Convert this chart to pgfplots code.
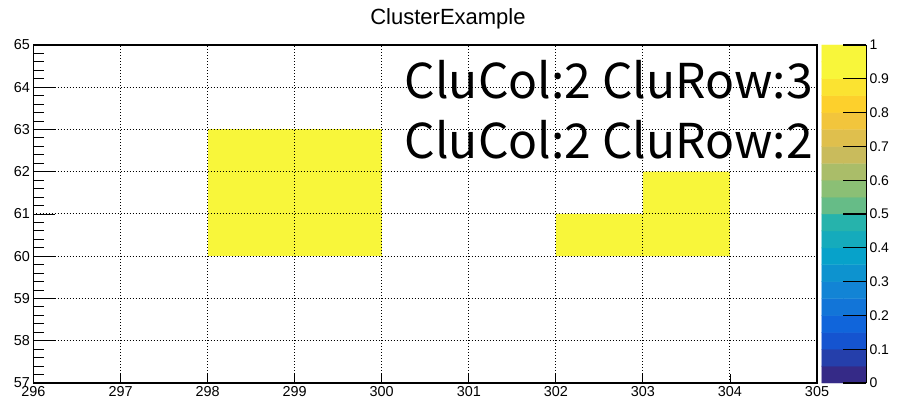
\documentclass[border=0pt]{standalone}
\usepackage{pgfplots}
\pgfplotsset{compat=1.18}
\usepackage{fontspec}
\setmainfont{Liberation Sans}
\newfontfamily\bigfont{Noto Sans CJK JP}
\definecolor{birdtop}{rgb}{0.973,0.965,0.227}
\pgfplotsset{/pgf/number format/assume math mode=true,
  colormap={bird}{rgb=(0.2082,0.1664,0.5293) rgb=(0.1455,0.2479,0.6721)
    rgb=(0.0827,0.3293,0.8148) rgb=(0.0641,0.3978,0.8605)
    rgb=(0.0721,0.4585,0.8479) rgb=(0.0722,0.5186,0.8336)
    rgb=(0.0492,0.5766,0.8137) rgb=(0.0261,0.6346,0.7939)
    rgb=(0.0810,0.6698,0.7366) rgb=(0.1471,0.7018,0.6739)
    rgb=(0.2539,0.7244,0.6054) rgb=(0.4013,0.7376,0.5311)
    rgb=(0.5453,0.7483,0.4601) rgb=(0.6668,0.7414,0.4111)
    rgb=(0.7883,0.7345,0.3621) rgb=(0.8745,0.7497,0.3015)
    rgb=(0.9490,0.7722,0.2371) rgb=(0.9926,0.8173,0.1742)
    rgb=(0.9845,0.8900,0.1941) rgb=(0.973,0.965,0.227)
    rgb=(0.973,0.965,0.227)}}
\pgfplotstableread{
x y c
0.25 0.025 0.025
0.75 0.025 0.025
0.25 0.075 0.075
0.75 0.075 0.075
0.25 0.125 0.125
0.75 0.125 0.125
0.25 0.175 0.175
0.75 0.175 0.175
0.25 0.225 0.225
0.75 0.225 0.225
0.25 0.275 0.275
0.75 0.275 0.275
0.25 0.325 0.325
0.75 0.325 0.325
0.25 0.375 0.375
0.75 0.375 0.375
0.25 0.425 0.425
0.75 0.425 0.425
0.25 0.475 0.475
0.75 0.475 0.475
0.25 0.525 0.525
0.75 0.525 0.525
0.25 0.575 0.575
0.75 0.575 0.575
0.25 0.625 0.625
0.75 0.625 0.625
0.25 0.675 0.675
0.75 0.675 0.675
0.25 0.725 0.725
0.75 0.725 0.725
0.25 0.775 0.775
0.75 0.775 0.775
0.25 0.825 0.825
0.75 0.825 0.825
0.25 0.875 0.875
0.75 0.875 0.875
0.25 0.925 0.925
0.75 0.925 0.925
0.25 0.975 0.975
0.75 0.975 0.975
}\cbtable
\begin{document}
\begin{tikzpicture}
\begin{axis}[
  name=main,
  scale only axis, width=783.5pt, height=338pt,
  xmin=296, xmax=305, ymin=57, ymax=65,
  xtick={296,297,...,305}, ytick={57,58,...,65},
  minor y tick num=4,
  tick pos=left,
  tick align=inside,
  major tick length=22pt, minor tick length=11pt,
  xtick style={/pgfplots/major tick length=9pt},
  tick style={black, line width=0.9pt},
  grid=major,
  grid style={black, line width=1pt, dash pattern=on 1pt off 2pt},
  axis on top,
  axis line style={black, line width=1.4pt},
  ticklabel style={font=\fontsize{14.4}{16}\selectfont},
  title={ClusterExample},
  title style={font=\fontsize{22}{24}\selectfont, at={(0.529,1)}, anchor=south, yshift=6pt},
]
\addplot[draw=none, fill=birdtop] coordinates {(298,60) (300,60) (300,63) (298,63)} -- cycle;
\addplot[draw=none, fill=birdtop] coordinates {(302,60) (304,60) (304,62) (303,62) (303,61) (302,61)} -- cycle;
\node[anchor=east, inner sep=0pt, font=\bigfont\fontsize{48}{50}\selectfont] at (axis cs:304.955,64.17) {CluCol:2 CluRow:3};
\node[anchor=east, inner sep=0pt, font=\bigfont\fontsize{48}{50}\selectfont] at (axis cs:304.955,62.75) {CluCol:2 CluRow:2};
\end{axis}
\begin{axis}[
  name=cb,
  at={(main.north east)}, anchor=north west, xshift=4.5pt,
  scale only axis, width=44.5pt, height=338pt,
  xmin=0, xmax=1, ymin=0, ymax=1,
  xtick=\empty,
  ytick={0,0.1,0.2,0.3,0.4,0.5,0.6,0.7,0.8,0.9,1},
  yticklabels={0,0.1,0.2,0.3,0.4,0.5,0.6,0.7,0.8,0.9,1},
  ytick pos=right, yticklabel pos=right,
  tick align=inside,
  major tick length=23pt,
  ytick style={black, line width=1.2pt},
  axis on top,
  axis line style={draw=none},
  yticklabel style={font=\fontsize{14}{16}\selectfont},
  colormap access=piecewise constant,
  point meta min=0, point meta max=1,
  extra description/.code={\draw[black, line width=1pt] (rel axis cs:1,0) -- (rel axis cs:1,1);},
]
\addplot[matrix plot*, mesh/cols=2, point meta=explicit] table[x=x, y=y, meta=c] {\cbtable};
\end{axis}
\path (main.south west) ++(-33.5pt,-23pt) coordinate (bbA);
\path (main.north east) ++(80pt,45pt) coordinate (bbB);
\path (bbA) rectangle (bbB);
\end{tikzpicture}
\end{document}
